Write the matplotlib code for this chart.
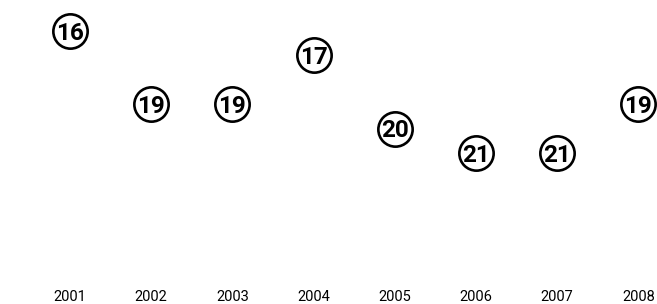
import matplotlib
matplotlib.use("Agg")
import matplotlib.pyplot as plt

years = [2001, 2002, 2003, 2004, 2005, 2006, 2007, 2008]
values = [16, 19, 19, 17, 20, 21, 21, 19]
year_labels = ["2001", "2002", "2003", "2004", "2005", "2006", "2007", "2008"]

fig = plt.figure(figsize=(6.57, 3.04), dpi=100)
ax = fig.add_axes([0, 19 / 304, 1, 285 / 304])
ax.set_xlim(2000.138, 2008.229)
ax.set_ylim(26.41, 14.73)

ax.scatter(years, values, s=610, facecolors="white", edgecolors="black",
           linewidths=1.9, zorder=2, clip_on=False)

for x, v in zip(years, values):
    ax.text(x, v + 0.36, str(v), ha="center", va="baseline", fontsize=17.5,
            fontweight="bold", family=["Roboto", "DejaVu Sans"],
            color="black", zorder=3)

ax.set_xticks(years)
ax.set_xticklabels(year_labels, family=["Roboto", "DejaVu Sans"], fontsize=10.5)
ax.tick_params(axis="x", length=0, pad=3.5)
ax.set_yticks([])
for s in ax.spines.values():
    s.set_visible(False)

fig.savefig("out.png", dpi=100)
